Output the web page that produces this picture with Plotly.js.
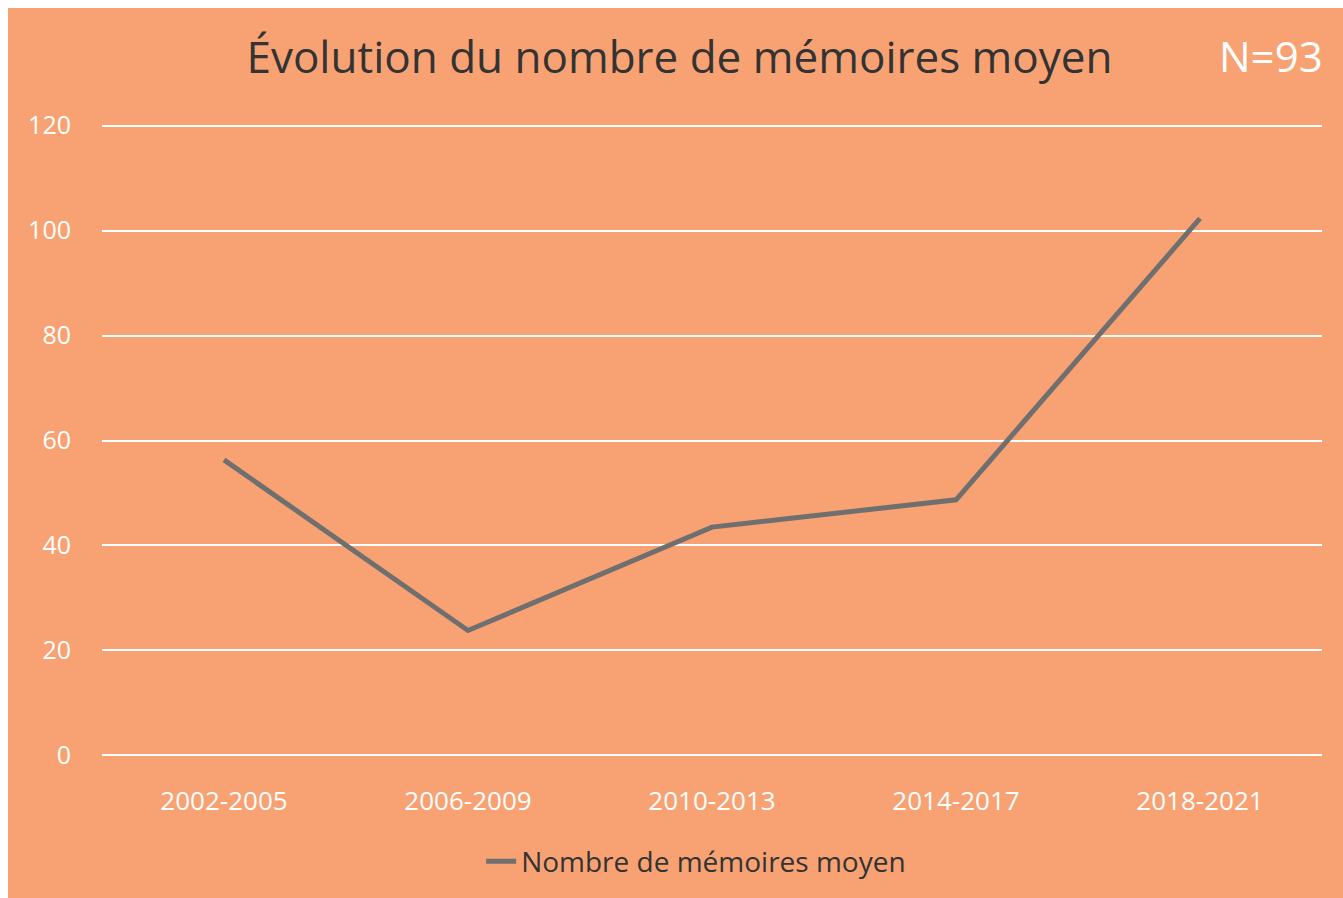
<!DOCTYPE html>
<html>
<head>
<meta charset="utf-8">
<script src="https://cdn.plot.ly/plotly-3.0.1.min.js"></script>
<style>
  html, body { margin: 0; padding: 0; background: #ffffff; }
  #chart { position: absolute; left: 8px; top: 8px; width: 1335px; height: 890px; }
</style>
</head>
<body>
<div id="chart"></div>
<script>
const categories = ["2002-2005", "2006-2009", "2010-2013", "2014-2017", "2018-2021"];
const moyenValues = [56.3, 23.8, 43.5, 48.7, 102.3];
const yTicks = [0, 20, 40, 60, 80, 100, 120];
const seriesName = "Nombre de mémoires moyen";
const chartTitle = "Évolution du nombre de mémoires moyen";
const noteText = "N=93";

const FONT = "'Open Sans', 'Noto Sans', sans-serif";
const BG = "#F8A273";

const trace = {
  type: "scatter",
  mode: "lines",
  x: categories,
  y: moyenValues,
  name: seriesName,
  line: { color: "#6F6F70", width: 5 },
  showlegend: true
};

const layout = {
  width: 1335,
  height: 890,
  paper_bgcolor: BG,
  plot_bgcolor: BG,
  margin: { l: 94, r: 21, t: 116, b: 139 },
  title: {
    text: chartTitle,
    font: { family: FONT, size: 44, color: "#333333" },
    x: 0.503,
    xanchor: "center",
    y: 0.944,
    yanchor: "middle"
  },
  xaxis: {
    type: "category",
    range: [-0.5, 4.5],
    showgrid: false,
    zeroline: false,
    showline: false,
    ticks: "",
    tickfont: { family: FONT, size: 26, color: "#FFFFFF" },
    ticklabelstandoff: 26
  },
  yaxis: {
    range: [-0.3, 120.3],
    tickvals: yTicks,
    ticktext: yTicks.map(String),
    showgrid: true,
    gridcolor: "#FFFFFF",
    gridwidth: 2,
    zeroline: false,
    showline: false,
    ticks: "",
    tickfont: { family: FONT, size: 25, color: "#FFFFFF" },
    ticklabelstandoff: 30
  },
  legend: {
    orientation: "h",
    x: 0.487,
    xanchor: "center",
    y: -0.165,
    yanchor: "middle",
    font: { family: FONT, size: 28, color: "#333333" },
    bgcolor: "rgba(0,0,0,0)"
  },
  annotations: [{
    text: noteText,
    xref: "paper",
    yref: "paper",
    x: 1.0025,
    xanchor: "right",
    y: 1.108,
    yanchor: "middle",
    showarrow: false,
    font: { family: FONT, size: 42, color: "#FFFFFF" }
  }]
};

Plotly.newPlot("chart", [trace], layout, { displayModeBar: false, responsive: false });
</script>
</body>
</html>
